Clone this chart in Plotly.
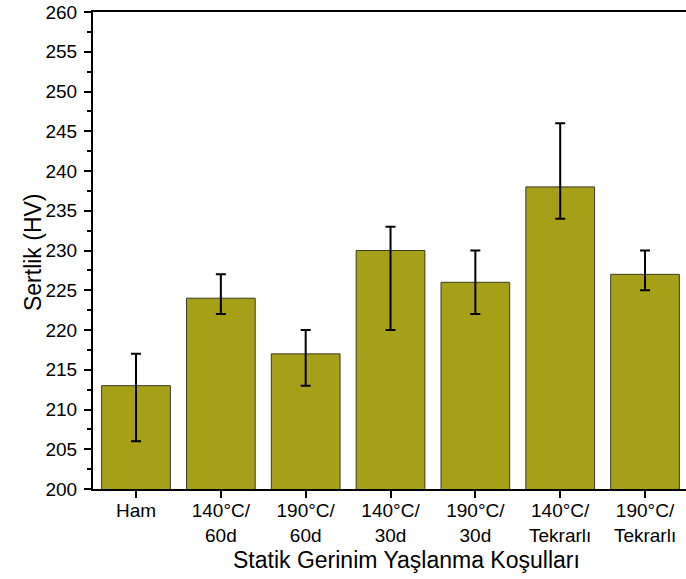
import plotly.graph_objects as go

# Hardness after static strain ageing
categories = ["Ham", "140°C/<br>60d", "190°C/<br>60d", "140°C/<br>30d",
              "190°C/<br>30d", "140°C/<br>Tekrarlı", "190°C/<br>Tekrarlı"]
hardness = [213, 224, 217, 230, 226, 238, 227]
err_plus = [4, 3, 3, 3, 4, 8, 3]
err_minus = [7, 2, 4, 10, 4, 4, 2]

y_ticks = list(range(200, 261, 5))

FONT = "Arial, Liberation Sans, sans-serif"

fig = go.Figure()
fig.add_trace(go.Bar(
    x=list(range(len(categories))),
    y=hardness,
    marker=dict(color="#A69F18", line=dict(color="#3a3a2a", width=1)),
    error_y=dict(type="data", symmetric=False, array=err_plus,
                 arrayminus=err_minus, color="black", thickness=2, width=5),
    showlegend=False,
))

fig.update_layout(
    width=686, height=579,
    margin=dict(l=93, r=0, t=12, b=90),
    plot_bgcolor="white", paper_bgcolor="white",
    bargap=0.19,
    font=dict(family=FONT, color="black", size=19),
    xaxis=dict(
        range=[-0.507, 6.483],
        tickmode="array",
        tickvals=list(range(len(categories))),
        ticktext=categories,
        ticks="outside", ticklen=7, tickwidth=2, tickcolor="black",
        showline=True, linecolor="black", linewidth=2, mirror=True,
        showgrid=False, zeroline=False,
        tickfont=dict(size=19),
        ticklabelstandoff=-4,
    ),
    yaxis=dict(
        range=[200, 260],
        tickmode="array", tickvals=y_ticks,
        ticks="outside", ticklen=7, tickwidth=2, tickcolor="black",
        showline=True, linecolor="black", linewidth=2,
        showgrid=False, zeroline=False,
        tickfont=dict(size=19),
        ticklabelstandoff=3,
        minor=dict(dtick=2.5, ticks="outside", ticklen=4, tickwidth=2,
                   tickcolor="black", showgrid=False),
    ),
    annotations=[
        dict(text="Statik Gerinim Yaşlanma Koşulları", xref="paper", yref="paper",
             x=0.5295, y=-0.148, xanchor="center", yanchor="middle",
             showarrow=False, font=dict(size=23)),
        dict(text="Sertlik (HV)", xref="paper", yref="paper",
             x=-0.101, y=0.497, xanchor="center", yanchor="middle",
             textangle=-90, showarrow=False, font=dict(size=23)),
    ],
)

fig.write_html("out.html")
